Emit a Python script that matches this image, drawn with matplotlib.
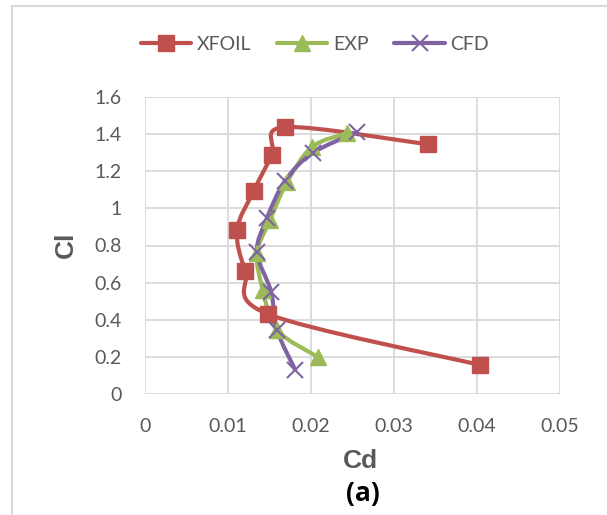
import numpy as np
import matplotlib
matplotlib.use('Agg')
import matplotlib.pyplot as plt
from matplotlib.path import Path
from matplotlib.patches import PathPatch
from matplotlib.lines import Line2D

# Cd / Cl readings for each series
xfoil_cd = [0.0404, 0.0148, 0.0121, 0.0111, 0.0131, 0.0153, 0.0169, 0.0341]
xfoil_cl = [0.156, 0.431, 0.663, 0.884, 1.094, 1.288, 1.438, 1.345]

exp_cd = [0.0208, 0.0159, 0.0142, 0.0135, 0.0151, 0.0171, 0.0201, 0.0243]
exp_cl = [0.20, 0.345, 0.56, 0.76, 0.94, 1.14, 1.33, 1.405]

cfd_cd = [0.0181, 0.0159, 0.0152, 0.0135, 0.0147, 0.0169, 0.0202, 0.0255]
cfd_cl = [0.13, 0.345, 0.55, 0.765, 0.948, 1.15, 1.298, 1.41]

x_ticks = [0, 0.01, 0.02, 0.03, 0.04, 0.05]
y_ticks = [0, 0.2, 0.4, 0.6, 0.8, 1, 1.2, 1.4, 1.6]

RED = '#C0504D'
GREEN = '#9BBB59'
PURPLE = '#8064A2'
GRAY = '#595959'
GRID = '#D9D9D9'


def smooth_path(xs, ys):
    # excel-style smoothed line: cubic bezier through the points
    p = np.column_stack([xs, ys])
    n = len(p)
    verts = [p[0]]
    codes = [Path.MOVETO]
    for i in range(n - 1):
        p0 = p[i - 1] if i > 0 else p[i]
        p3 = p[i + 2] if i + 2 < n else p[i + 1]
        c1 = p[i] + (p[i + 1] - p0) / 6
        c2 = p[i + 1] - (p3 - p[i]) / 6
        verts += [c1, c2, p[i + 1]]
        codes += [Path.CURVE4] * 3
    return Path(verts, codes)


fig = plt.figure(figsize=(6.07, 5.15), dpi=100)
ax = fig.add_axes([145 / 607, 1 - 394 / 515, 415 / 607, 297 / 515])

ax.set_xlim(0, 0.05)
ax.set_ylim(0, 1.6)
ax.set_xticks(x_ticks)
ax.set_yticks(y_ticks)
ax.set_xticklabels(['0', '0.01', '0.02', '0.03', '0.04', '0.05'])
ax.set_yticklabels(['0', '0.2', '0.4', '0.6', '0.8', '1', '1.2', '1.4', '1.6'])
ax.grid(True, color=GRID, linewidth=1.3)
ax.set_axisbelow(True)
for s in ax.spines.values():
    s.set_visible(False)
ax.tick_params(length=0, labelsize=14, labelcolor=GRAY, pad=17)
for lab in ax.get_xticklabels() + ax.get_yticklabels():
    lab.set_family('Lato')

series = [
    (xfoil_cd, xfoil_cl, RED, 's', 12, 1.0),
    (exp_cd, exp_cl, GREEN, '^', 12, 1.0),
    (cfd_cd, cfd_cl, PURPLE, 'x', 11, 1.5),
]
handles = []
for cd, cl, col, mk, ms, mew in series:
    ax.add_patch(PathPatch(smooth_path(cd, cl), fill=False, edgecolor=col,
                           linewidth=3, capstyle='round', joinstyle='round'))
    ax.plot(cd, cl, linestyle='none', marker=mk, markersize=ms, color=col,
            markeredgewidth=mew)
    handles.append(Line2D([], [], color=col, linewidth=3, marker=mk,
                          markersize=ms, markeredgewidth=mew,
                          solid_capstyle='round'))

fig.legend(handles, ['XFOIL', 'EXP', 'CFD'], loc='center',
           bbox_to_anchor=(315 / 607, 1 - 44 / 515), ncol=3, frameon=False,
           prop={'family': 'Lato', 'size': 14}, labelcolor=GRAY,
           handlelength=2.6, handletextpad=0.3, columnspacing=1.3)

ax.set_xlabel('Cd', fontsize=19, fontweight='bold', color=GRAY,
              family='Liberation Sans', va='center')
ax.xaxis.set_label_coords((360 - 145) / 415, -(461 - 394) / 297)
ax.set_ylabel('Cl', fontsize=19, fontweight='bold', color=GRAY,
              family='Liberation Sans', va='center')
ax.yaxis.set_label_coords(-(145 - 66) / 415, (394 - 245) / 297)
fig.text(363 / 607, 1 - 494 / 515, '(a)', ha='center', va='center',
         fontsize=19, fontweight='bold', family='Open Sans', color='black')

# chart area border
fig.add_artist(plt.Rectangle((12 / 607, -0.1), 1.2, 1 - 6 / 515 + 0.1,
                             transform=fig.transFigure, fill=False,
                             edgecolor=GRID, linewidth=1.5))

fig.savefig('out.png', dpi=100)
